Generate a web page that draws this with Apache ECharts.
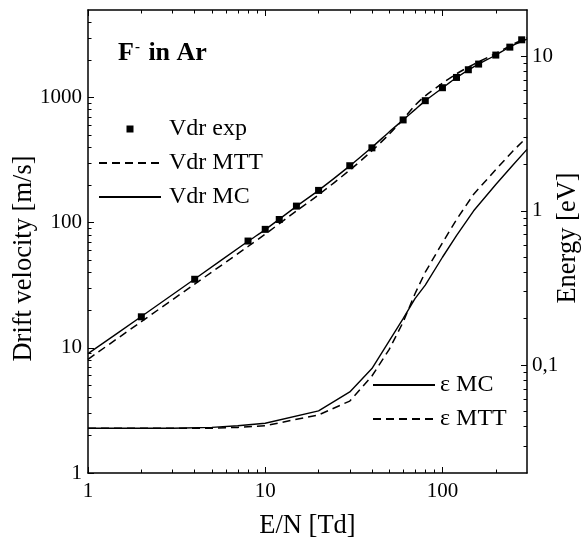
<!DOCTYPE html>
<html>
<head>
<meta charset="utf-8">
<script src="https://cdn.jsdelivr.net/npm/echarts@6/dist/echarts.min.js"></script>
<style>
  html, body { margin: 0; padding: 0; background: #fff; }
  #chart { width: 586px; height: 544px; }
</style>
</head>
<body>
<div id="chart"></div>
<script>
// E/N grid of the experimental drift velocities [Td]
const expField = [2, 4, 8, 10, 12, 15, 20, 30, 40, 60, 80, 100, 120, 140, 160, 200, 240, 280];
// measured drift velocity [m/s]
const vdrExp = [17.7, 35.3, 71.3, 88.4, 106, 135.6, 181, 285, 396, 662, 943, 1197, 1446, 1666, 1849, 2182, 2525, 2890];

// E/N grid of the computed drift velocities [Td]
const vdrField = [1, 2, 4, 8, 10, 15, 20, 30, 40, 50, 60, 70, 80, 100, 120, 150, 200, 250, 300];
// Monte Carlo drift velocity [m/s]
const vdrMC = [9.0, 17.8, 35.5, 71, 88, 135, 181, 284, 400, 530, 662, 800, 940, 1190, 1440, 1755, 2185, 2610, 2930];
// momentum-transfer-theory drift velocity [m/s]
const vdrMTT = [8.1, 16.2, 32.3, 64.5, 81, 124, 167, 263, 375, 508, 670, 864, 1030, 1300, 1545, 1840, 2250, 2660, 3000];

// E/N grid of the mean energies [Td]
const enField = [1, 2, 3, 5, 7, 10, 20, 30, 40, 50, 60, 70, 80, 100, 120, 150, 200, 250, 300];
// Monte Carlo mean energy [eV]
const enMC = [0.039, 0.039, 0.039, 0.0395, 0.0405, 0.042, 0.0505, 0.067, 0.095, 0.143, 0.20, 0.27, 0.33, 0.50, 0.69, 1.0, 1.48, 1.98, 2.5];
// momentum-transfer-theory mean energy [eV]
const enMTT = [0.039, 0.039, 0.039, 0.039, 0.0395, 0.0405, 0.0476, 0.0585, 0.085, 0.126, 0.19, 0.29, 0.40, 0.62, 0.876, 1.28, 1.85, 2.44, 3.0];

// labelled decades on each axis
const xLabels = [1, 10, 100];
const vLabels = [1, 10, 100, 1000];
const eLabels = [0.1, 1, 10];

const FONT = 'Liberation Serif';

// intermediate (2..9 x 10^k) tick values between lo and hi
function minorTicks(lo, hi) {
  const out = [];
  for (let k = -3; k <= 4; k++) {
    const p = Math.pow(10, k);
    for (let m = 2; m <= 9; m++) {
      const v = Number((m * p).toPrecision(6));
      if (v > lo && v < hi) out.push(v);
    }
  }
  return out;
}

function pairs(xs, ys) { return xs.map((x, i) => [x, ys[i]]); }

const GRID = { left: 88, right: 59, top: 10, bottom: 71, outerBoundsMode: 'none', containLabel: false };

function logAxis(opts) {
  const base = {
    type: 'log',
    logBase: 10,
    min: opts.min,
    max: opts.max,
    gridIndex: opts.gridIndex,
    position: opts.position,
    splitLine: { show: false },
    minorTick: { show: false },
    axisLine: { show: opts.line, lineStyle: { color: '#000', width: 1.5 } },
    axisTick: {
      show: true, inside: true, length: opts.tickLen,
      lineStyle: { color: '#000', width: 1 },
      customValues: opts.ticks
    },
    axisLabel: { show: false }
  };
  if (opts.labels) {
    base.axisLabel = {
      show: true,
      customValues: opts.labels,
      fontFamily: FONT, fontSize: 21, color: '#000',
      margin: opts.labelMargin,
      formatter: opts.formatter || (v => String(v))
    };
  }
  if (opts.name) {
    base.name = opts.name;
    base.nameLocation = 'middle';
    base.nameGap = opts.nameGap;
    base.nameMoveOverlap = false;
    base.nameTextStyle = { fontFamily: FONT, fontSize: 26.5, color: '#000', padding: opts.namePad || 0 };
  }
  return base;
}

const chart = echarts.init(document.getElementById('chart'), null, { renderer: 'canvas' });

const solid = { color: '#000', width: 1.4, type: 'solid' };
const dashed = { color: '#000', width: 1.5, type: [8, 5] };
// legend entries for curves: line only, no point marker
const lineOnly = { opacity: 0 };

chart.setOption({
  animation: false,
  backgroundColor: '#fff',
  title: {
    left: 113, top: 35,
    text: '{b|F}{s|-}{b| in Ar}',
    textStyle: {
      rich: {
        b: { fontFamily: FONT, fontSize: 26, fontWeight: 'bold', color: '#000' },
        s: { fontFamily: FONT, fontSize: 15, fontWeight: 'bold', color: '#000', verticalAlign: 'top', padding: [0, 2, 0, 1] }
      }
    }
  },
  legend: [
    {
      data: [
        { name: 'Vdr exp', icon: 'path://M0,0H10V10H0Z' },
        { name: 'Vdr MTT', itemStyle: lineOnly },
        { name: 'Vdr MC', itemStyle: lineOnly }
      ],
      orient: 'vertical', left: 98, top: 117, padding: 0,
      itemWidth: 62, itemHeight: 7, itemGap: 10,
      symbolKeepAspect: true,
      selectedMode: false,
      textStyle: { fontFamily: FONT, fontSize: 24, color: '#000', padding: [0, 0, 0, 3] }
    },
    {
      data: [
        { name: 'ε MC', itemStyle: lineOnly },
        { name: 'ε MTT', itemStyle: lineOnly }
      ],
      orient: 'vertical', left: 372, top: 373, padding: 0,
      itemWidth: 62, itemHeight: 7, itemGap: 10,
      selectedMode: false,
      textStyle: { fontFamily: FONT, fontSize: 24, color: '#000' }
    }
  ],
  grid: [
    Object.assign({}, GRID),
    Object.assign({}, GRID)
  ],
  xAxis: [
    logAxis({ gridIndex: 0, position: 'bottom', min: 1, max: 300, line: true, tickLen: 6, ticks: xLabels, labels: xLabels, labelMargin: 8, name: 'E/N [Td]', nameGap: 40 }),
    logAxis({ gridIndex: 0, position: 'top', min: 1, max: 300, line: true, tickLen: 6, ticks: xLabels }),
    logAxis({ gridIndex: 1, position: 'bottom', min: 1, max: 300, line: false, tickLen: 3.5, ticks: minorTicks(1, 300) }),
    logAxis({ gridIndex: 1, position: 'top', min: 1, max: 300, line: false, tickLen: 3.5, ticks: minorTicks(1, 300) })
  ],
  yAxis: [
    logAxis({ gridIndex: 0, position: 'left', min: 1, max: 5000, line: true, tickLen: 6, ticks: vLabels, labels: vLabels, labelMargin: 6,
              name: 'Drift velocity [m/s]', nameGap: 50, namePad: [0, 34, 0, 0] }),
    logAxis({ gridIndex: 0, position: 'right', min: 0.02, max: 20, line: true, tickLen: 6, ticks: eLabels, labels: eLabels, labelMargin: 5,
              formatter: v => String(v).replace('.', ','), name: 'Energy [eV]', nameGap: 28, namePad: [0, 0, 0, 7] }),
    logAxis({ gridIndex: 1, position: 'left', min: 1, max: 5000, line: false, tickLen: 3.5, ticks: minorTicks(1, 5000) }),
    logAxis({ gridIndex: 1, position: 'right', min: 0.02, max: 20, line: false, tickLen: 3.5, ticks: minorTicks(0.02, 20) })
  ],
  series: [
    {
      name: 'Vdr MTT', type: 'line', xAxisIndex: 0, yAxisIndex: 0,
      data: pairs(vdrField, vdrMTT), symbol: 'none', showSymbol: false, smooth: 0.3,
      lineStyle: dashed, itemStyle: { color: '#000' }
    },
    {
      name: 'Vdr MC', type: 'line', xAxisIndex: 0, yAxisIndex: 0,
      data: pairs(vdrField, vdrMC), symbol: 'none', showSymbol: false, smooth: 0.3,
      lineStyle: solid, itemStyle: { color: '#000' }
    },
    {
      name: 'ε MC', type: 'line', xAxisIndex: 0, yAxisIndex: 1,
      data: pairs(enField, enMC), symbol: 'none', showSymbol: false,
      lineStyle: solid, itemStyle: { color: '#000' }
    },
    {
      name: 'ε MTT', type: 'line', xAxisIndex: 0, yAxisIndex: 1,
      data: pairs(enField, enMTT), symbol: 'none', showSymbol: false,
      lineStyle: dashed, itemStyle: { color: '#000' }
    },
    {
      name: 'Vdr exp', type: 'scatter', xAxisIndex: 0, yAxisIndex: 0,
      data: pairs(expField, vdrExp), symbol: 'rect', symbolSize: 7,
      itemStyle: { color: '#000', opacity: 1 }, z: 5
    }
  ]
});
</script>
</body>
</html>
